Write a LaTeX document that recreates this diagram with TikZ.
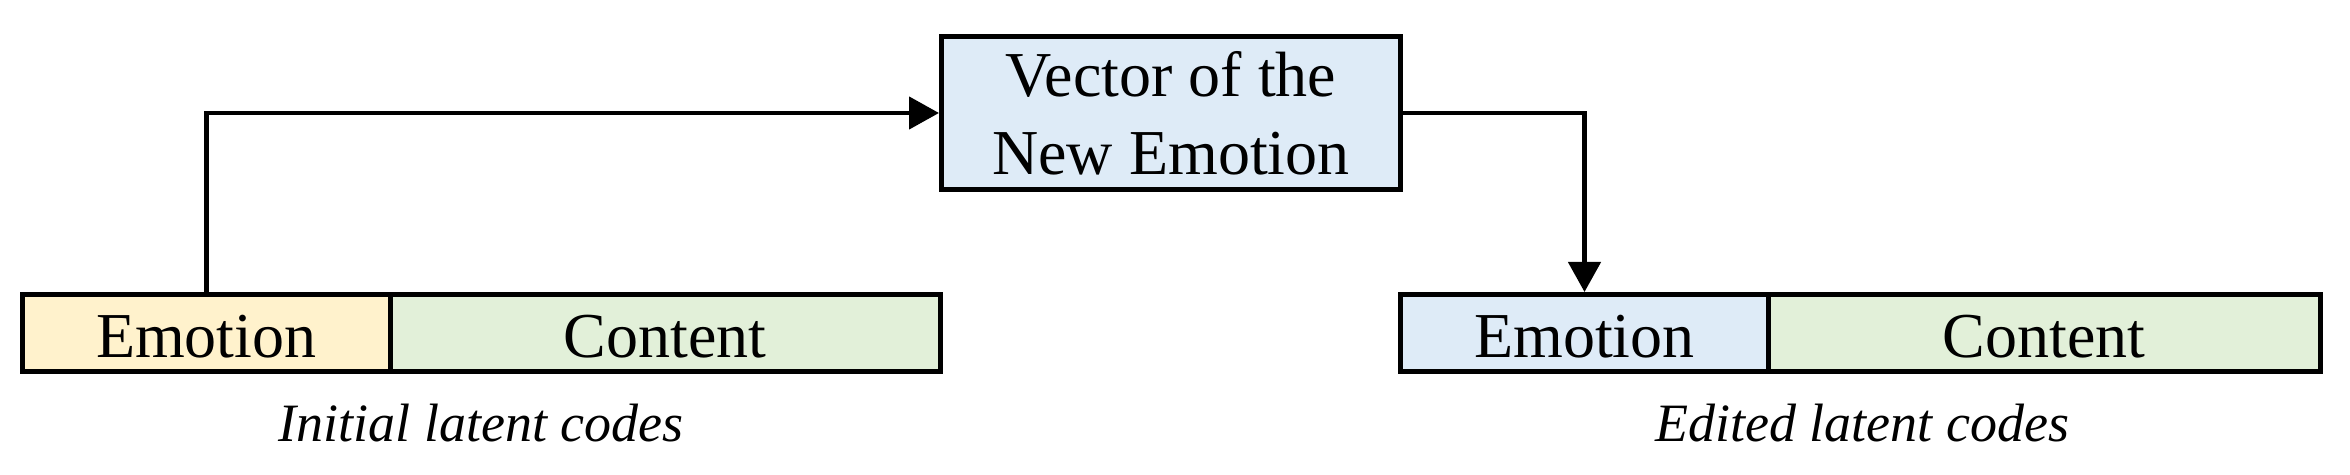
\documentclass[tikz,border=0pt]{standalone}
\usepackage{fontspec}
\setmainfont{Liberation Serif}
\usetikzlibrary{arrows.meta}
\definecolor{emoyellow}{HTML}{FFF2CC}
\definecolor{contgreen}{HTML}{E2F0D9}
\definecolor{vecblue}{HTML}{DEEBF7}
\tikzset{
  cell/.style={draw=black, line width=2.5pt, inner sep=0pt, minimum height=38.5pt,
    text height=24.5pt, text depth=0pt, font=\fontsize{32}{38}\selectfont},
  vecbox/.style={draw=black, line width=2.5pt, fill=vecblue, inner sep=0pt,
    minimum width=229.5pt, minimum height=76.5pt, align=center,
    font=\fontsize{32}{39}\selectfont},
  conn/.style={line width=2.3pt, -{Triangle[length=15pt,width=16pt]}},
  caption/.style={font=\fontsize{27}{30}\selectfont\itshape, inner sep=0pt, anchor=base}
}
\begin{document}
\begin{tikzpicture}[x=0.5pt,y=-0.5pt]
\useasboundingbox (0,0) rectangle (2350,475);
% initial latent codes
\node[cell, fill=emoyellow, minimum width=183.75pt] (emo1) at (206.25,333) {Emotion};
\node[cell, fill=contgreen, minimum width=275.25pt] (cont1) at (665.25,333) {Content};
% vector box
\node[vecbox] (vec) at (1171,113) {Vector of the\\New Emotion};
% edited latent codes
\node[cell, fill=vecblue, minimum width=184pt] (emo2) at (1584.5,333) {Emotion};
\node[cell, fill=contgreen, minimum width=275.75pt] (cont2) at (2044.25,333) {Content};
% captions
\node[caption] (cap1) at (481,442) {Initial latent codes};
\node[caption] (cap2) at (1862,442) {Edited latent codes};
% connectors
\draw[conn] (emo1.north) |- (vec.west);
\draw[conn] (vec.east) -| (emo2.north);
\end{tikzpicture}
\end{document}
